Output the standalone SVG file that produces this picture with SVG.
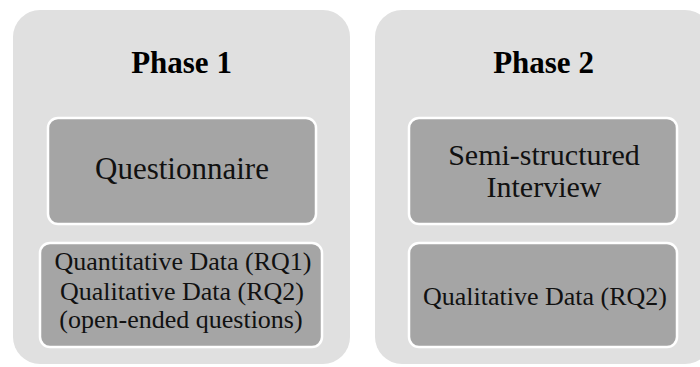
<svg xmlns="http://www.w3.org/2000/svg" width="700" height="367" viewBox="0 0 700 367">
  <style>
    .phase { fill: #e0e0e0; }
    .box { fill: #a5a5a5; stroke: #ffffff; stroke-width: 2.5; }
    .title { font-family: "Liberation Serif", "Times New Roman", serif; font-weight: bold; font-size: 31px; fill: #000; text-anchor: middle; }
    .big { font-family: "Liberation Serif", "Times New Roman", serif; font-size: 31px; fill: #111; text-anchor: middle; }
    .two { font-family: "Liberation Serif", "Times New Roman", serif; font-size: 30px; fill: #111; text-anchor: middle; }
    .small { font-family: "Liberation Serif", "Times New Roman", serif; font-size: 26px; fill: #111; text-anchor: middle; }
  </style>
  <rect width="700" height="367" fill="#ffffff"/>

  <!-- Phase 1 column -->
  <g id="phase1">
    <rect class="phase" x="13" y="10" width="337" height="354" rx="27" ry="27"/>
    <text class="title" x="181.5" y="73">Phase 1</text>
  </g>
  <g id="questionnaire">
    <rect class="box" x="48" y="118" width="268" height="106" rx="10" ry="10"/>
    <text class="big" x="182" y="179">Questionnaire</text>
  </g>
  <g id="phase1-data">
    <rect class="box" x="40" y="243" width="282" height="104" rx="10" ry="10"/>
    <text class="small" x="183" y="270">Quantitative Data (RQ1)</text>
    <text class="small" x="182" y="300">Qualitative Data (RQ2)</text>
    <text class="small" x="181" y="328">(open-ended questions)</text>
  </g>

  <!-- Phase 2 column -->
  <g id="phase2">
    <rect class="phase" x="375" y="10" width="337" height="354" rx="27" ry="27"/>
    <text class="title" x="543.5" y="73">Phase 2</text>
  </g>
  <g id="interview">
    <rect class="box" x="409" y="118" width="268" height="106" rx="10" ry="10"/>
    <text class="two" x="544" y="165">Semi-structured</text>
    <text class="two" x="544" y="197">Interview</text>
  </g>
  <g id="phase2-data">
    <rect class="box" x="409" y="243" width="268" height="104" rx="10" ry="10"/>
    <text class="small" x="545" y="305">Qualitative Data (RQ2)</text>
  </g>

  <g id="connectors"></g>
</svg>
